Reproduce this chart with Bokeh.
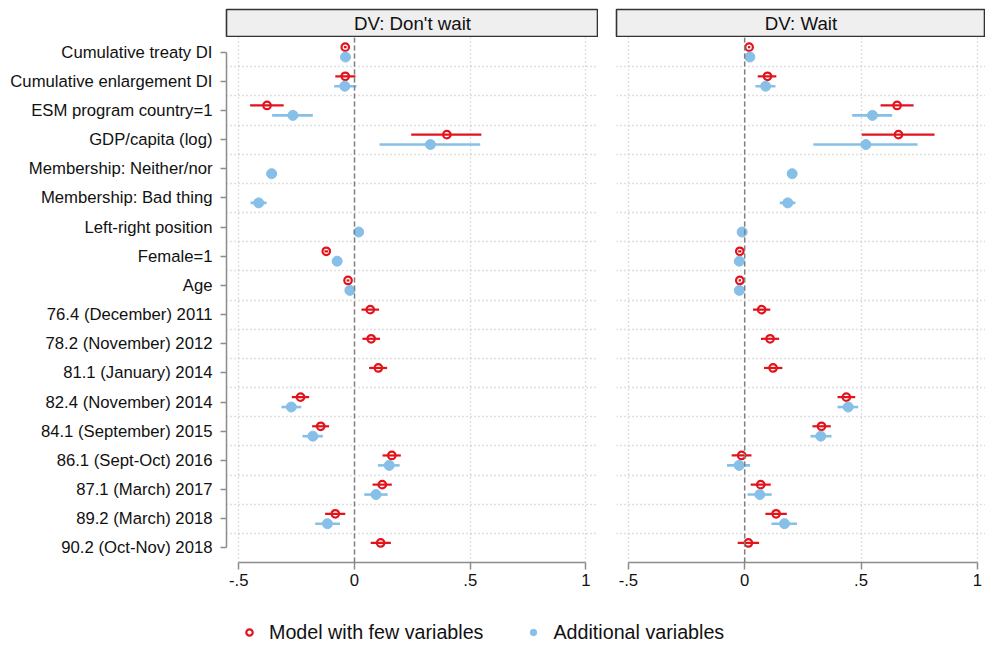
import math
from bokeh.plotting import figure
from bokeh.models import (Range1d, FixedTicker, Grid, Span, Label, Legend, LegendItem,
                          ColumnDataSource)
from bokeh.layouts import row, column
from bokeh.embed import file_html
from bokeh.resources import INLINE

nan = float("nan")

categories = ["Cumulative treaty DI", "Cumulative enlargement DI", "ESM program country=1",
              "GDP/capita (log)", "Membership: Neither/nor", "Membership: Bad thing",
              "Left-right position", "Female=1", "Age", "76.4 (December) 2011",
              "78.2 (November) 2012", "81.1 (January) 2014", "82.4 (November) 2014",
              "84.1 (September) 2015", "86.1 (Sept-Oct) 2016", "87.1 (March) 2017",
              "89.2 (March) 2018", "90.2 (Oct-Nov) 2018"]

panel_titles = ["DV: Don't wait", "DV: Wait"]
series_names = ["Model with few variables", "Additional variables"]

x_ticks = [-0.5, 0, 0.5, 1]
x_tick_labels = ["-.5", "0", ".5", "1"]

# DV: Don't wait -- model with few variables
dw_few_b  = [-0.040, -0.040, -0.378, 0.399, nan, nan, nan, -0.122, -0.028, 0.068, 0.072, 0.103, -0.233, -0.146, 0.161, 0.120, -0.083, 0.113]
dw_few_lo = [-0.046, -0.083, -0.451, 0.245, nan, nan, nan, -0.130, -0.034, 0.030, 0.034, 0.063, -0.271, -0.183, 0.121, 0.078, -0.127, 0.070]
dw_few_hi = [-0.034, 0.004, -0.306, 0.548, nan, nan, nan, -0.114, -0.022, 0.106, 0.110, 0.141, -0.196, -0.110, 0.200, 0.161, -0.040, 0.157]
# DV: Don't wait -- additional variables
dw_add_b  = [-0.039, -0.042, -0.266, 0.328, -0.358, -0.414, 0.018, -0.075, -0.020, nan, nan, nan, -0.273, -0.180, 0.150, 0.093, -0.117, nan]
dw_add_lo = [-0.045, -0.088, -0.356, 0.108, -0.380, -0.449, 0.012, -0.085, -0.026, nan, nan, nan, -0.316, -0.225, 0.101, 0.042, -0.170, nan]
dw_add_hi = [-0.033, 0.008, -0.180, 0.543, -0.336, -0.380, 0.024, -0.065, -0.014, nan, nan, nan, -0.230, -0.137, 0.195, 0.143, -0.063, nan]
# DV: Wait -- model with few variables
w_few_b  = [0.019, 0.098, 0.655, 0.661, nan, nan, nan, -0.021, -0.021, 0.073, 0.109, 0.122, 0.437, 0.330, -0.013, 0.069, 0.135, 0.016]
w_few_lo = [0.014, 0.056, 0.584, 0.503, nan, nan, nan, -0.028, -0.026, 0.036, 0.070, 0.083, 0.399, 0.291, -0.056, 0.026, 0.089, -0.030]
w_few_hi = [0.024, 0.136, 0.726, 0.816, nan, nan, nan, -0.014, -0.016, 0.110, 0.148, 0.162, 0.475, 0.370, 0.029, 0.112, 0.181, 0.062]
# DV: Wait -- additional variables
w_add_b  = [0.022, 0.090, 0.549, 0.521, 0.204, 0.185, -0.011, -0.023, -0.023, nan, nan, nan, 0.445, 0.327, -0.024, 0.065, 0.171, nan]
w_add_lo = [0.017, 0.046, 0.462, 0.295, 0.182, 0.151, -0.016, -0.045, -0.028, nan, nan, nan, 0.399, 0.283, -0.076, 0.012, 0.115, nan]
w_add_hi = [0.027, 0.132, 0.634, 0.743, 0.225, 0.218, -0.006, -0.007, -0.018, nan, nan, nan, 0.488, 0.373, 0.023, 0.116, 0.225, nan]

RED = "#e2131b"
BLUE = "#86c0e8"
AXIS_GRAY = "#8c8c8c"
GRID_GRAY = "#bfbfbf"
FONT = "Liberation Sans"
OFFSET = 0.17
N = len(categories)

def make_source(b, lo, hi, offset):
    rows = [i for i in range(N) if not math.isnan(b[i])]
    return ColumnDataSource(dict(
        b=[b[i] for i in rows], lo=[lo[i] for i in rows], hi=[hi[i] for i in rows],
        y=[i + offset for i in rows]))

def make_panel(few, add, width, left_border, xr, show_y):
    p = figure(width=width, height=556, output_backend="svg", toolbar_location=None,
               x_range=Range1d(*xr), y_range=Range1d(N - 0.5, -0.5),
               min_border_left=left_border, min_border_right=0, min_border_top=0,
               min_border_bottom=31)
    p.outline_line_color = None
    p.background_fill_color = "white"
    p.border_fill_color = "white"
    # x axis
    p.xaxis.ticker = FixedTicker(ticks=x_ticks)
    p.xaxis.major_label_overrides = {t: l for t, l in zip(x_ticks, x_tick_labels)}
    p.xaxis.bounds = (x_ticks[0], x_ticks[-1])
    p.xaxis.axis_line_color = AXIS_GRAY
    p.xaxis.axis_line_width = 1.5
    p.xaxis.major_tick_line_color = AXIS_GRAY
    p.xaxis.major_tick_line_width = 1.5
    p.xaxis.major_tick_out = 7
    p.xaxis.major_tick_in = 0
    p.xaxis.minor_tick_line_color = None
    p.xaxis.major_label_text_font = FONT
    p.xaxis.major_label_text_font_size = "16.7px"
    p.xaxis.major_label_text_color = "#111111"
    p.xaxis.major_label_standoff = 4
    # y axis
    if show_y:
        p.yaxis.ticker = FixedTicker(ticks=list(range(N)))
        p.yaxis.major_label_overrides = {i: c for i, c in enumerate(categories)}
        p.yaxis.bounds = (0, N - 1)
        p.yaxis.axis_line_color = AXIS_GRAY
        p.yaxis.axis_line_width = 1.5
        p.yaxis.major_tick_line_color = AXIS_GRAY
        p.yaxis.major_tick_line_width = 1.5
        p.yaxis.major_tick_out = 6
        p.yaxis.major_tick_in = 0
        p.yaxis.minor_tick_line_color = None
        p.yaxis.major_label_text_font = FONT
        p.yaxis.major_label_text_font_size = "16.7px"
        p.yaxis.major_label_text_color = "#111111"
        p.yaxis.major_label_standoff = 8
    else:
        p.yaxis.visible = False
    # grids
    p.ygrid.visible = False
    p.xgrid.grid_line_color = GRID_GRAY
    p.xgrid.grid_line_dash = "1 3"
    p.xgrid.grid_line_width = 1.3
    p.xgrid.ticker = FixedTicker(ticks=x_ticks)
    p.add_layout(Grid(dimension=1, ticker=FixedTicker(ticks=[i + 0.5 for i in range(N - 1)]),
                      grid_line_color=GRID_GRAY, grid_line_dash="1 3", grid_line_width=1.3))
    p.add_layout(Span(location=0, dimension="height", line_color="#808080",
                      line_dash="5 3", line_width=1.5))
    # data
    s_few = make_source(*few, -OFFSET)
    s_add = make_source(*add, OFFSET)
    p.segment(x0="lo", y0="y", x1="hi", y1="y", source=s_few, line_color=RED, line_width=2.2)
    p.scatter(x="b", y="y", source=s_few, size=7.5, marker="circle", fill_alpha=0,
              line_color=RED, line_width=2.2)
    p.segment(x0="lo", y0="y", x1="hi", y1="y", source=s_add, line_color=BLUE, line_width=2.6)
    p.scatter(x="b", y="y", source=s_add, size=10, marker="circle", fill_color=BLUE,
              line_color=BLUE)
    return p

def make_header(text, width, left_border):
    h = figure(width=width, height=37, output_backend="svg", toolbar_location=None,
               x_range=Range1d(0, 1), y_range=Range1d(0, 1),
               x_axis_location=None, y_axis_location=None,
               min_border_left=left_border, min_border_right=0, min_border_top=9,
               min_border_bottom=1)
    h.grid.visible = False
    h.background_fill_color = "#efefef"
    h.border_fill_color = "white"
    h.outline_line_color = "#333333"
    h.outline_line_width = 1.6
    h.add_layout(Label(x=0.5, y=0.5, text=text, text_align="center", text_baseline="middle",
                       text_font=FONT, text_font_size="18.7px", text_color="#111111"))
    return h

W1, W2 = 598, 387
h1 = make_header(panel_titles[0], W1, 226)
h2 = make_header(panel_titles[1], W2, 18)
p1 = make_panel((dw_few_b, dw_few_lo, dw_few_hi), (dw_add_b, dw_add_lo, dw_add_hi),
                W1, 226, (-0.553, 1.054), True)
p2 = make_panel((w_few_b, w_few_lo, w_few_hi), (w_add_b, w_add_lo, w_add_hi),
                W2, 18, (-0.551, 1.035), False)

# legend strip
lg = figure(width=W1 + W2, height=52, output_backend="svg", toolbar_location=None,
            x_range=Range1d(0, 1), y_range=Range1d(0, 1),
            x_axis_location=None, y_axis_location=None, min_border=0)
lg.grid.visible = False
lg.outline_line_color = None
r1 = lg.scatter(x=[nan], y=[nan], size=6, marker="circle", fill_alpha=0,
                line_color=RED, line_width=2.2)
r2 = lg.scatter(x=[nan], y=[nan], size=8, marker="circle", fill_color=BLUE, line_color=BLUE)
legend = Legend(items=[LegendItem(label=series_names[0], renderers=[r1]),
                       LegendItem(label=series_names[1], renderers=[r2])],
                orientation="horizontal", location=(241, 0), border_line_color=None,
                background_fill_alpha=0, padding=0, margin=0,
                label_text_font=FONT, label_text_font_size="19.7px",
                label_text_color="#111111", glyph_width=16, glyph_height=26,
                label_height=26, label_standoff=12, spacing=42)
lg.add_layout(legend, "center")

layout = column(row(column(h1, p1), column(h2, p2)), lg)
open("out.html", "w").write(file_html(layout, INLINE))
